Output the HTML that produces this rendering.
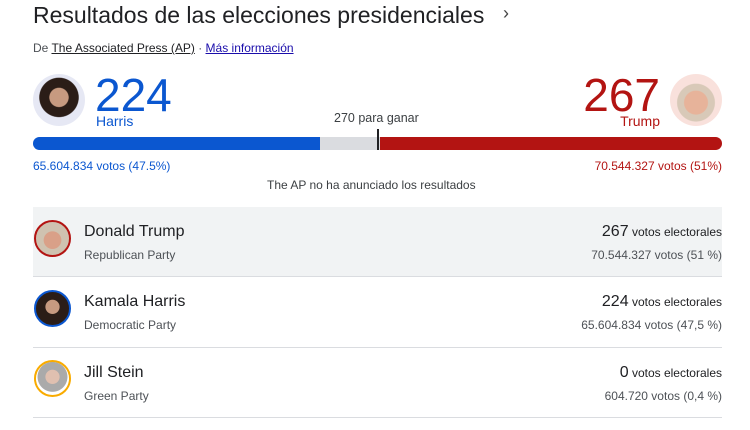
<!DOCTYPE html>
<html><head><meta charset="utf-8"><style>
body{margin:0;width:750px;height:430px;background:#fff;font-family:"Liberation Sans",sans-serif;position:relative;overflow:hidden;color:#202124}
.a{position:absolute;white-space:nowrap}
.av{position:absolute;border-radius:50%;box-sizing:border-box}
</style></head><body>
<div class="a" style="left:33px;top:2px;font-size:23px;color:#202124">Resultados de las elecciones presidenciales</div>
<div class="a" style="left:503px;top:3px;font-size:18px;color:#444">›</div>
<div class="a" style="left:33px;top:41px;font-size:12px;color:#4d5156">De <span style="text-decoration:underline;color:#202124">The Associated Press (AP)</span> · <span style="text-decoration:underline;color:#1a0dab">Más información</span></div>

<div class="av" style="left:33px;top:74px;width:52px;height:52px;background:radial-gradient(circle at 50% 45%,#c79a80 0 24%,#2b1d17 26% 50%,#e6e8f4 52%)"></div>
<div class="a" style="left:95px;top:68px;font-size:46px;color:#0b57d0">224</div>
<div class="a" style="left:96px;top:113px;font-size:14px;color:#0b57d0">Harris</div>

<div class="av" style="left:670px;top:74px;width:52px;height:52px;background:radial-gradient(circle at 50% 55%,#e7b39a 0 30%,#d8c9b8 32% 48%,#f9e1dc 50%)"></div>
<div class="a" style="right:90px;top:68px;font-size:46px;color:#b31412">267</div>
<div class="a" style="right:90px;top:113px;font-size:14px;color:#b31412">Trump</div>

<div class="a" style="left:334px;top:111px;font-size:12.5px;color:#3c4043">270 para ganar</div>
<div class="a" style="left:33px;top:137px;width:689px;height:13px;border-radius:7px;background:#dadce0;overflow:hidden">
 <div style="position:absolute;left:0;top:0;width:287px;height:13px;background:#0b57d0"></div>
 <div style="position:absolute;left:347px;top:0;width:342px;height:13px;background:#b31412"></div>
</div>
<div class="a" style="left:377px;top:129px;width:2px;height:21px;background:#202124"></div>
<div class="a" style="left:33px;top:159px;font-size:12px;color:#0b57d0">65.604.834 votos (47.5%)</div>
<div class="a" style="right:28px;top:159px;font-size:12px;color:#b31412">70.544.327 votos (51%)</div>
<div class="a" style="left:267px;top:178px;font-size:12px;color:#3c4043">The AP no ha anunciado los resultados</div>

<div class="a" style="left:33px;top:207px;width:689px;height:69px;background:#f1f3f4"></div>
<div class="a" style="left:33px;top:276px;width:689px;height:1px;background:#dadce0"></div>
<div class="a" style="left:33px;top:347px;width:689px;height:1px;background:#dadce0"></div>
<div class="a" style="left:33px;top:417px;width:689px;height:1px;background:#dadce0"></div>

<div class="av" style="left:34px;top:220px;width:37px;height:37px;border:2.5px solid #b31412;background:radial-gradient(circle at 50% 55%,#d9a088 0 35%,#cfc2b0 37%)"></div>
<div class="av" style="left:34px;top:290px;width:37px;height:37px;border:2.5px solid #0b57d0;background:radial-gradient(circle at 50% 45%,#c79a80 0 28%,#2b1d17 30%)"></div>
<div class="av" style="left:34px;top:360px;width:37px;height:37px;border:2.5px solid #f9ab00;background:radial-gradient(circle at 50% 45%,#e0c0b0 0 28%,#aaa 30% 60%,#fff 62%)"></div>

<div class="a" style="left:84px;top:223px;font-size:16px">Donald Trump</div>
<div class="a" style="left:84px;top:248px;font-size:12px;color:#4d5156">Republican Party</div>
<div class="a" style="left:84px;top:293px;font-size:16px">Kamala Harris</div>
<div class="a" style="left:84px;top:318px;font-size:12px;color:#4d5156">Democratic Party</div>
<div class="a" style="left:84px;top:364px;font-size:16px">Jill Stein</div>
<div class="a" style="left:84px;top:389px;font-size:12px;color:#4d5156">Green Party</div>

<div class="a" style="right:28px;top:223px;font-size:12px"><span style="font-size:16px">267</span> votos electorales</div>
<div class="a" style="right:28px;top:248px;font-size:12px;color:#4d5156">70.544.327 votos (51 %)</div>
<div class="a" style="right:28px;top:293px;font-size:12px"><span style="font-size:16px">224</span> votos electorales</div>
<div class="a" style="right:28px;top:318px;font-size:12px;color:#4d5156">65.604.834 votos (47,5 %)</div>
<div class="a" style="right:28px;top:364px;font-size:12px"><span style="font-size:16px">0</span> votos electorales</div>
<div class="a" style="right:28px;top:389px;font-size:12px;color:#4d5156">604.720 votos (0,4 %)</div>
</body></html>
